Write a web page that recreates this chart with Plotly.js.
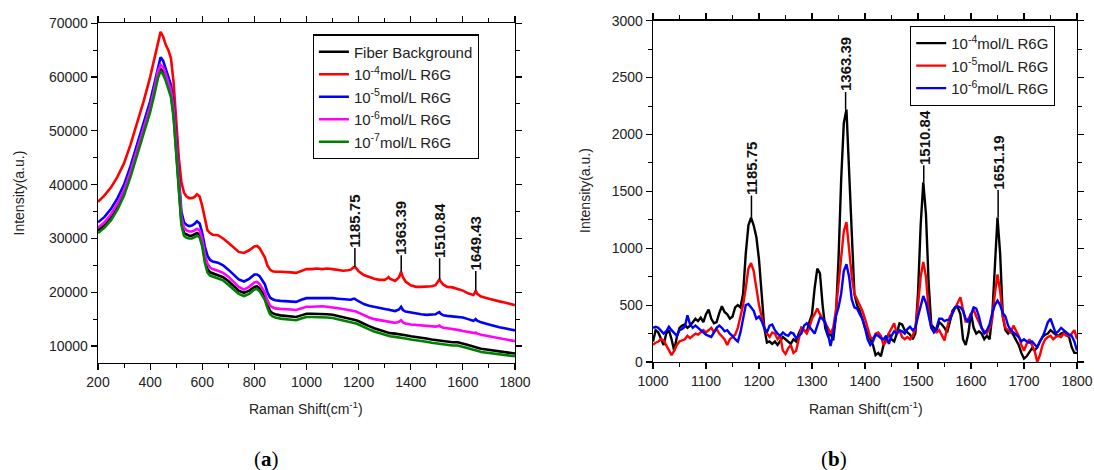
<!DOCTYPE html>
<html>
<head>
<meta charset="utf-8">
<script src="https://cdn.plot.ly/plotly-3.0.1.min.js"></script>
<style>html,body{margin:0;padding:0;background:#fff;}#chart{width:1094px;height:470px;}</style>
</head>
<body>
<div id="chart"></div>
<script>
// ---------- Panel (a) data ----------
const xA = [200,225,250,275,300,325,350,375,400,415,
  430,440,450,460,470,480,490,500,510,520,
  530,540,550,560,570,580,590,600,610,620,
  630,640,660,680,700,720,740,760,780,800,
  810,820,840,850,860,870,880,900,920,940,
  960,980,1000,1020,1040,1060,1080,1100,1120,1140,
  1160,1170,1180,1185,1190,1200,1220,1240,1260,1280,
  1300,1310,1315,1320,1340,1355,1363,1370,1380,1400,
  1420,1440,1460,1480,1495,1505,1510,1515,1525,1540,
  1560,1580,1600,1620,1640,1645,1649,1655,1670,1700,
  1720,1740,1760,1780,1800];

const fiberBackground = [31500,32500,34000,36000,38500,42000,46000,50000,54000,57000,
  60300,61600,61000,59800,58300,56800,53000,46000,38000,33000,
  31000,30700,30500,30500,30700,31000,30700,29000,26000,24300,
  23700,23500,23200,22800,22100,21200,20300,19900,20300,21000,
  21100,20700,19200,17700,16500,16100,15900,15700,15600,15500,
  15400,15700,16000,16000,16000,15900,15900,15800,15600,15400,
  15200,15100,15000,14900,14800,14600,14100,13700,13300,13000,
  12700,12600,12500,12400,12300,12200,12200,12100,12000,11800,
  11700,11500,11400,11200,11100,11000,11000,10900,10900,10800,
  10700,10700,10500,10200,9900,9800,9800,9700,9500,9300,
  9100,9000,8900,8800,8600];

const r6g1e4A = [36800,38000,39500,41500,44000,47500,51500,55500,60000,63000,
  66500,68400,67500,66000,65000,63500,59000,52000,45000,40500,
  38500,37800,37500,37500,37700,38200,37800,36000,33500,31500,
  31000,30700,30600,30000,29200,28300,27500,27300,27800,28500,
  28600,28200,26500,25000,24200,23900,23800,23800,23800,23700,
  23600,24000,24300,24300,24400,24300,24400,24300,24200,24000,
  24100,24200,24600,24700,24500,23900,23200,22800,22500,22300,
  22300,22600,22800,22500,22100,22800,23800,22800,22000,21300,
  21000,21000,21000,21100,21300,22000,22400,22000,21400,21000,
  20900,20600,20300,19800,19500,19800,20300,19700,19200,18800,
  18500,18300,18100,17900,17600];

const r6g1e5A = [33000,34000,35500,37500,40000,43500,47500,51500,55500,58500,
  62000,63700,63000,61500,60000,58500,55000,48000,40000,35000,
  33000,32500,32300,32400,32700,33200,32800,31000,28500,26800,
  26000,25700,25500,25000,24200,23300,22400,22000,22500,23300,
  23300,23000,21500,20000,19000,18700,18500,18400,18300,18200,
  18200,18600,18900,18900,18900,19000,19000,18900,18800,18700,
  18600,18600,18800,18800,18600,18300,17800,17500,17300,17000,
  16900,16800,16800,16700,16500,16800,17300,16700,16400,16200,
  16000,15900,15800,15800,15900,16200,16300,16000,15700,15600,
  15500,15400,15300,15000,14700,14800,15000,14700,14400,14000,
  13700,13500,13300,13100,12900];

const r6g1e6A = [32000,33000,34500,36500,39000,42500,46500,50500,54500,57500,
  61000,62300,61800,60500,59000,57500,54000,47000,39000,34000,
  32000,31500,31300,31300,31500,31800,31500,29800,27000,25300,
  24600,24300,24000,23600,22900,22000,21000,20500,21000,21800,
  21900,21500,20000,18500,17500,17200,17000,16900,16900,16800,
  16700,17000,17300,17300,17400,17400,17300,17200,17000,16900,
  16700,16600,16500,16500,16400,16200,15700,15300,15000,14800,
  14600,14500,14500,14400,14300,14500,14800,14400,14200,14000,
  13900,13800,13700,13600,13600,13700,13800,13600,13400,13300,
  13200,13000,12800,12600,12400,12400,12500,12300,12100,11800,
  11600,11400,11300,11100,10900];

const r6g1e7A = [31000,32000,33400,35400,38000,41500,45500,49500,53500,56500,
  59800,61100,60500,59300,57800,56300,52500,45500,37500,32500,
  30500,30100,30000,30000,30200,30500,30200,28500,25500,23700,
  23100,22900,22600,22200,21400,20600,19700,19300,19700,20500,
  20600,20200,18600,17100,15900,15500,15300,15100,15000,14900,
  14800,15100,15400,15400,15400,15300,15300,15200,15000,14800,
  14600,14500,14400,14300,14200,14000,13500,13100,12700,12400,
  12100,12000,11900,11800,11700,11600,11600,11500,11400,11200,
  11100,10900,10800,10600,10500,10400,10400,10300,10300,10200,
  10100,10100,9900,9600,9300,9200,9200,9100,8900,8700,
  8500,8400,8300,8200,8100];

const peaksA = [1185.75, 1363.39, 1510.84, 1649.43];
const peaksAy = [24700, 23800, 22400, 20300];
const peaksAOffset = [-46, -44, -49, -47];

// ---------- Panel (b) data ----------
const xB = [1000,1005,1010,1015,1020,1025,1030,1035,1040,1045,
  1050,1055,1060,1065,1070,1075,1080,1085,1090,1095,
  1100,1105,1110,1115,1120,1125,1130,1135,1140,1145,
  1150,1155,1160,1165,1170,1175,1180,1185,1190,1195,
  1200,1205,1210,1215,1220,1225,1230,1235,1240,1245,
  1250,1255,1260,1265,1270,1275,1280,1285,1290,1295,
  1300,1305,1310,1315,1320,1325,1330,1335,1340,1345,
  1350,1355,1360,1365,1370,1375,1380,1385,1390,1395,
  1400,1405,1410,1415,1420,1425,1430,1435,1440,1445,
  1450,1455,1460,1465,1470,1475,1480,1485,1490,1495,
  1500,1505,1510,1515,1520,1525,1530,1535,1540,1545,
  1550,1555,1560,1565,1570,1575,1580,1585,1590,1595,
  1600,1605,1610,1615,1620,1625,1630,1635,1640,1645,
  1650,1655,1660,1665,1670,1675,1680,1685,1690,1695,
  1700,1705,1710,1715,1720,1725,1730,1735,1740,1745,
  1750,1755,1760,1765,1770,1775,1780,1785,1790,1795,
  1800];

const r6g1e4B = [180,280,260,200,150,250,280,200,100,220,
  300,320,330,300,320,350,380,360,390,350,
  420,460,380,340,350,430,490,440,420,380,
  400,480,500,480,600,950,1200,1270,1200,1100,
  900,600,300,170,180,160,180,150,180,220,
  200,180,160,200,180,250,300,280,260,350,
  420,650,820,780,500,300,230,250,190,400,
  900,1600,2100,2220,1700,1100,600,500,450,380,
  300,250,200,150,60,80,50,150,200,250,
  200,180,250,340,330,280,260,240,200,250,
  600,1200,1580,1300,700,330,300,280,350,330,
  300,260,350,450,480,480,420,200,150,250,
  430,300,250,270,250,200,230,200,400,900,
  1270,950,400,280,250,280,240,200,150,80,
  30,50,80,120,100,130,180,220,240,250,
  280,260,240,230,250,260,240,220,130,80,
  80];

const r6g1e5B = [150,170,180,200,190,150,100,60,100,150,
  180,190,200,230,210,230,250,240,260,280,
  260,280,300,260,290,250,220,200,150,200,
  220,240,300,400,500,650,820,870,800,650,
  500,400,300,250,220,260,250,200,230,100,
  70,120,150,80,100,200,300,280,250,300,
  380,420,470,420,380,350,300,250,300,450,
  700,950,1150,1230,1000,750,600,550,500,450,
  380,300,220,200,250,260,230,150,180,250,
  300,340,250,280,220,200,220,200,230,300,
  500,750,880,750,450,300,270,260,280,230,
  190,300,400,430,470,520,570,450,350,380,
  420,460,400,350,300,270,250,300,380,600,
  770,620,400,300,280,260,320,280,230,150,
  100,160,200,150,100,0,60,150,200,220,
  230,200,220,230,220,250,230,230,250,280,
  200];

const r6g1e6B = [300,310,300,270,250,270,310,280,250,230,
  280,290,310,410,330,300,320,300,280,260,
  240,230,220,260,300,320,300,270,280,250,
  230,200,180,260,400,500,510,480,450,380,
  400,360,300,260,320,330,280,250,230,260,
  240,230,260,250,210,230,250,320,340,310,
  280,250,320,390,380,350,250,140,250,400,
  480,600,800,860,750,550,480,470,420,380,
  300,200,150,180,240,230,210,200,230,160,
  230,270,250,280,270,250,290,310,280,300,
  400,500,580,520,400,300,260,300,380,380,
  360,370,370,420,480,490,480,450,380,350,
  420,480,470,400,300,250,280,330,430,500,
  540,500,430,400,320,280,260,240,220,180,
  200,180,170,180,150,130,180,220,280,350,
  380,320,250,270,300,280,260,240,230,180,
  100];

const peaksB = [1185.75, 1363.39, 1510.84, 1651.19];
const peaksBy = [1270, 2220, 1580, 1270];
const peaksBOffset = [-49, -45, -45, -55];

const namesA = ['Fiber Background','10<sup>-4</sup>mol/L R6G','10<sup>-5</sup>mol/L R6G','10<sup>-6</sup>mol/L R6G','10<sup>-7</sup>mol/L R6G'];
const namesB = ['10<sup>-4</sup>mol/L R6G','10<sup>-5</sup>mol/L R6G','10<sup>-6</sup>mol/L R6G'];

// ---------- build ----------
const W = 1094, H = 470;
const FONT = 'Liberation Sans, Arial, sans-serif';
const seriesA = [fiberBackground, r6g1e4A, r6g1e5A, r6g1e6A, r6g1e7A];
const colorsA = ['#000000','#ff0000','#0000ff','#ff00ff','#008000'];
const seriesB = [r6g1e4B, r6g1e5B, r6g1e6B];
const colorsB = ['#000000','#ff0000','#0000ff'];

const traces = [];
seriesA.forEach((ys, i) => traces.push({
  x: xA, y: ys, type: 'scatter', mode: 'lines', name: namesA[i],
  line: {color: colorsA[i], width: 2.6}, xaxis: 'x', yaxis: 'y', legend: 'legend'
}));
seriesB.forEach((ys, i) => traces.push({
  x: xB, y: ys, type: 'scatter', mode: 'lines', name: namesB[i],
  line: {color: colorsB[i], width: 2.4}, xaxis: 'x2', yaxis: 'y2', legend: 'legend2'
}));

function axisCommon(extra) {
  return Object.assign({
    showline: true, linecolor: '#000', linewidth: 1.3, mirror: 'ticks',
    ticks: 'outside', ticklen: 6, tickwidth: 1.2, tickcolor: '#000',
    showgrid: false, zeroline: false, tickformat: 'd', ticklabeloverflow: 'allow',
    tickfont: {family: FONT, size: 14, color: '#222'}
  }, extra);
}

const px = v => v / W, py = v => 1 - v / H;

const annotations = [];
peaksA.forEach((p, i) => annotations.push({
  x: p, y: peaksAy[i], xref: 'x', yref: 'y', text: '<b>' + p.toFixed(2) + '</b>',
  textangle: -90, showarrow: true, arrowhead: 0, arrowwidth: 1.5, arrowcolor: '#000',
  ax: 0, ay: peaksAOffset[i], standoff: 0, borderpad: 0,
  font: {family: FONT, size: 15, color: '#111'}
}));
peaksB.forEach((p, i) => annotations.push({
  x: p, y: peaksBy[i], xref: 'x2', yref: 'y2', text: '<b>' + p.toFixed(2) + '</b>',
  textangle: -90, showarrow: true, arrowhead: 0, arrowwidth: 1.5, arrowcolor: '#000',
  ax: 0, ay: peaksBOffset[i], standoff: 0, borderpad: 0,
  font: {family: FONT, size: 15, color: '#111'}
}));
const titleFont = {family: FONT, size: 14, color: '#222'};
annotations.push(
  {xref:'paper', yref:'paper', x: px(306), y: py(408), text: 'Raman Shift(cm<sup>-1</sup>)', showarrow:false, font: titleFont, xanchor:'center', yanchor:'middle'},
  {xref:'paper', yref:'paper', x: px(866), y: py(408), text: 'Raman Shift(cm<sup>-1</sup>)', showarrow:false, font: titleFont, xanchor:'center', yanchor:'middle'},
  {xref:'paper', yref:'paper', x: px(18.5), y: py(193), text: 'Intensity(a.u.)', textangle: -90, showarrow:false, font: titleFont, xanchor:'center', yanchor:'middle'},
  {xref:'paper', yref:'paper', x: px(585), y: py(191), text: 'Intensity(a.u.)', textangle: -90, showarrow:false, font: titleFont, xanchor:'center', yanchor:'middle'},
  {xref:'paper', yref:'paper', x: px(266), y: py(459), text: '(<b>a</b>)', showarrow:false, font: {family:'Liberation Serif, Times New Roman, serif', size: 21, color:'#000'}, xanchor:'center', yanchor:'middle'},
  {xref:'paper', yref:'paper', x: px(834), y: py(459), text: '(<b>b</b>)', showarrow:false, font: {family:'Liberation Serif, Times New Roman, serif', size: 21, color:'#000'}, xanchor:'center', yanchor:'middle'}
);

const legendCommon = {
  bgcolor: '#fff', bordercolor: '#000', borderwidth: 1.2,
  font: {family: FONT, size: 15, color: '#222'},
  xanchor: 'left', yanchor: 'top', tracegroupgap: 0, itemwidth: 30
};

const layout = {
  width: W, height: H, autosize: false,
  margin: {l: 0, r: 0, t: 0, b: 0},
  paper_bgcolor: '#fff', plot_bgcolor: '#fff',
  showlegend: true,
  xaxis: axisCommon({domain: [px(98), px(515)], range: [200, 1800], tick0: 200, dtick: 200,
    minor: {dtick: 100, ticks: 'outside', ticklen: 4, tickcolor: '#000', tickwidth: 1}, anchor: 'y'}),
  yaxis: axisCommon({domain: [py(362.7), py(23.3)], range: [6900, 70000], tick0: 0, dtick: 10000,
    minor: {dtick: 5000, ticks: 'outside', ticklen: 4, tickcolor: '#000', tickwidth: 1}, anchor: 'x'}),
  xaxis2: axisCommon({domain: [px(653), px(1077)], range: [1000, 1800], tick0: 1000, dtick: 100,
    minor: {dtick: 50, ticks: 'outside', ticklen: 4, tickcolor: '#000', tickwidth: 1}, anchor: 'y2'}),
  yaxis2: axisCommon({domain: [py(362), py(20.7)], range: [0, 3000], tick0: 0, dtick: 500,
    minor: {dtick: 250, ticks: 'outside', ticklen: 4, tickcolor: '#000', tickwidth: 1}, anchor: 'x2'}),
  legend: Object.assign({}, legendCommon, {x: px(312.7), y: py(34.3)}),
  legend2: Object.assign({}, legendCommon, {x: px(910), y: py(25.7)}),
  annotations: annotations
};

Plotly.newPlot('chart', traces, layout, {staticPlot: true, displayModeBar: false});
</script>
</body>
</html>
